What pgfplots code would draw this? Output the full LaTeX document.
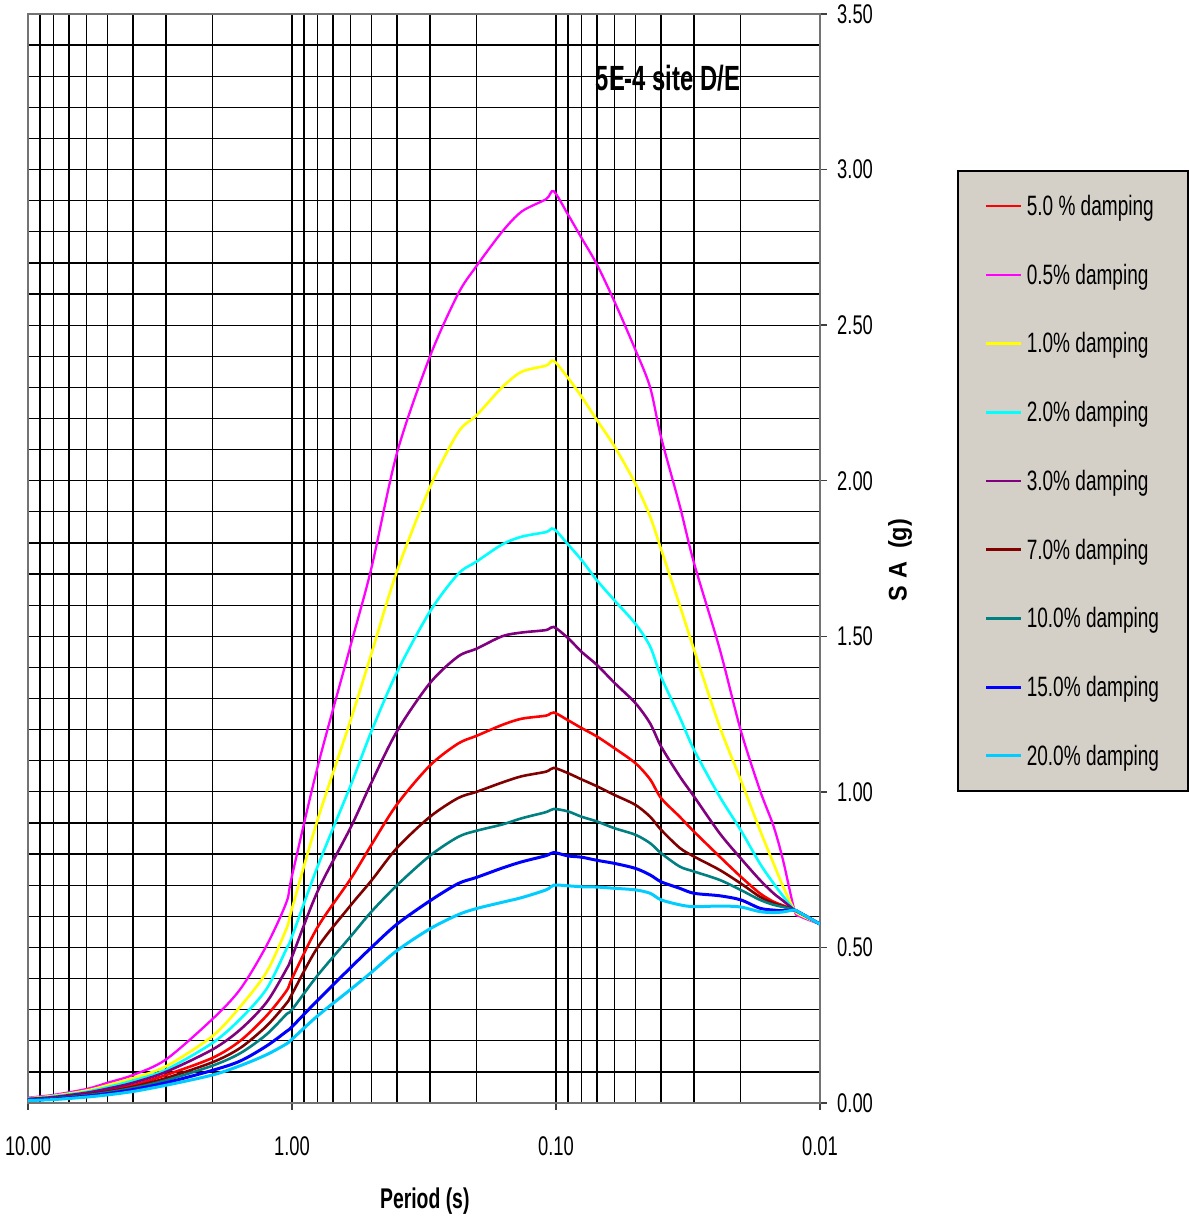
\documentclass[border=0pt]{standalone}
\usepackage{pgfplots}
\usepackage{pgfplotstable}
\pgfplotsset{compat=1.18}
\usepackage{fontspec}
\setmainfont{Liberation Sans}[FakeStretch=0.68]
\newfontfamily\ylabfont{Liberation Sans}[FakeStretch=0.92]
\definecolor{cMag}{HTML}{FF00FF}
\definecolor{cYel}{HTML}{FFFF00}
\definecolor{cCya}{HTML}{00FFFF}
\definecolor{cPur}{HTML}{800080}
\definecolor{cRed}{HTML}{FF0000}
\definecolor{cDrd}{HTML}{800000}
\definecolor{cTea}{HTML}{008080}
\definecolor{cBlu}{HTML}{0000FF}
\definecolor{cLbl}{HTML}{00CCFF}
\definecolor{legbg}{HTML}{D4D0C8}
\pgfplotstableread{
T      d05   d10   d20   d30   d50   d70   d100  d150  d200
10     0.017 0.015 0.014 0.013 0.012 0.011 0.010 0.009 0.008
8      0.026 0.023 0.021 0.019 0.017 0.016 0.015 0.013 0.011
6      0.045 0.040 0.036 0.033 0.029 0.027 0.025 0.022 0.019
5      0.065 0.057 0.051 0.046 0.041 0.037 0.034 0.030 0.026
4      0.090 0.080 0.072 0.065 0.057 0.052 0.048 0.043 0.037
3      0.140 0.118 0.107 0.100 0.090 0.080 0.073 0.065 0.057
2      0.270 0.215 0.193 0.172 0.145 0.131 0.120 0.105 0.090
1.57   0.366 0.310 0.270 0.236 0.200 0.177 0.160 0.135 0.120
1.25   0.505 0.420 0.366 0.323 0.280 0.247 0.220 0.183 0.155
1.05   0.645 0.560 0.495 0.430 0.360 0.320 0.285 0.230 0.190
1      0.730 0.625 0.535 0.470 0.400 0.350 0.300 0.245 0.205
0.8    1.080 0.910 0.760 0.680 0.565 0.500 0.410 0.330 0.280
0.6    1.470 1.230 1.020 0.885 0.720 0.635 0.535 0.435 0.365
0.5    1.720 1.445 1.195 1.030 0.830 0.715 0.615 0.500 0.420
0.4    2.090 1.710 1.385 1.195 0.960 0.820 0.700 0.575 0.490
0.3    2.400 1.980 1.580 1.350 1.085 0.920 0.795 0.650 0.560
0.235  2.600 2.155 1.700 1.435 1.155 0.980 0.855 0.705 0.605
0.2    2.690 2.210 1.740 1.460 1.180 1.000 0.875 0.725 0.625
0.16   2.800 2.300 1.795 1.500 1.215 1.030 0.895 0.755 0.645
0.135  2.865 2.350 1.820 1.512 1.235 1.050 0.915 0.775 0.660
0.109  2.905 2.370 1.835 1.520 1.245 1.065 0.935 0.795 0.685
0.102  2.930 2.385 1.845 1.530 1.255 1.077 0.945 0.805 0.700
0.09   2.855 2.330 1.795 1.494 1.230 1.060 0.937 0.794 0.698
0.08   2.780 2.270 1.745 1.450 1.205 1.040 0.920 0.790 0.695
0.07   2.695 2.195 1.680 1.408 1.178 1.018 0.905 0.780 0.694
0.06   2.575 2.110 1.615 1.350 1.140 0.990 0.883 0.770 0.690
0.05   2.420 1.990 1.540 1.285 1.092 0.958 0.862 0.754 0.685
0.044  2.300 1.885 1.467 1.220 1.040 0.920 0.835 0.733 0.674
0.04   2.140 1.780 1.370 1.146 0.980 0.878 0.803 0.711 0.653
0.034  1.920 1.600 1.240 1.050 0.920 0.820 0.760 0.690 0.637
0.03   1.735 1.457 1.135 0.985 0.872 0.792 0.744 0.674 0.631
0.024  1.460 1.210 0.985 0.867 0.792 0.749 0.717 0.666 0.633
0.02   1.200 1.040 0.878 0.787 0.728 0.706 0.685 0.653 0.630
0.0169 1.006 0.878 0.770 0.717 0.674 0.663 0.653 0.626 0.615
0.015  0.890 0.770 0.706 0.674 0.647 0.642 0.637 0.620 0.612
0.0138 0.780 0.696 0.665 0.650 0.635 0.632 0.630 0.618 0.614
0.0125 0.620 0.620 0.620 0.620 0.620 0.620 0.620 0.620 0.620
0.0119 0.600 0.605 0.611 0.611 0.611 0.611 0.611 0.611 0.611
0.01   0.575 0.575 0.575 0.575 0.575 0.575 0.575 0.575 0.575
}\spectra
\begin{document}
\begin{tikzpicture}
\path (-28pt,-119pt) rectangle (1160pt,1103pt);
\begin{axis}[
  at={(0pt,0pt)}, anchor=south west,
  scale only axis, width=792pt, height=1089pt,
  xmode=log, x dir=reverse, xmin=0.01, xmax=10,
  ymin=0, ymax=3.5,
  xtick={10,1,0.1,0.01}, xticklabels={10.00,1.00,0.10,0.01},
  minor xtick={0.02,0.03,0.04,0.05,0.06,0.07,0.08,0.09,0.2,0.3,0.4,0.5,0.6,0.7,0.8,0.9,2,3,4,5,6,7,8,9},
  ytick={0,0.5,1,1.5,2,2.5,3,3.5},
  yticklabels={0.00,0.50,1.00,1.50,2.00,2.50,3.00,3.50},
  minor ytick={0.1,0.2,0.3,0.4,0.6,0.7,0.8,0.9,1.1,1.2,1.3,1.4,1.6,1.7,1.8,1.9,2.1,2.2,2.3,2.4,2.6,2.7,2.8,2.9,3.1,3.2,3.3,3.4},
  grid=both,
  major grid style={line width=1.25pt, black},
  minor grid style={line width=1.25pt, black},
  tick align=outside,
  major tick length=7pt, minor tick length=0pt,
  xtick pos=bottom, ytick pos=right, yticklabel pos=right,
  tick style={line width=1.5pt, black!75},
  axis line style={line width=2pt, black!55},
  tick label style={font=\fontsize{27}{32}\selectfont},
  xticklabel style={inner sep=0pt, anchor=north, yshift=-26pt},
  yticklabel style={inner sep=0pt, anchor=west, xshift=10pt},
  every axis x label/.style={at={(axis description cs:0.501,-0.0897)}, anchor=center},
  every axis y label/.style={at={(axis description cs:1.101,0.4986)}, rotate=90, anchor=center},
  xlabel={\bfseries\fontsize{28.5}{34}\selectfont Period (s)},
  ylabel={\ylabfont\bfseries\fontsize{25.5}{30}\selectfont S~A~~(g)},
  legend style={at={(axis description cs:1.173,0.8567)}, anchor=north west,
    fill=legbg, draw=black, line width=1.5pt,
    font=\fontsize{28}{33}\selectfont,
    inner xsep=27pt, inner ysep=22.5pt, row sep=42.9pt,
    /tikz/every odd column/.append style={column sep=2pt}},
  legend cell align=left,
  legend image code/.code={\draw[#1] (0pt,0pt) -- (35pt,0pt);},
]
\addplot[cRed, line width=2.6pt, smooth, tension=0.5] table[x=T, y=d50] {\spectra};
\addlegendentry{5.0 \% damping}
\addplot[cMag, line width=2.3pt, smooth, tension=0.5] table[x=T, y=d05] {\spectra};
\addlegendentry{0.5\% damping}
\addplot[cYel, line width=2.6pt, smooth, tension=0.5] table[x=T, y=d10] {\spectra};
\addlegendentry{1.0\% damping}
\addplot[cCya, line width=2.6pt, smooth, tension=0.5] table[x=T, y=d20] {\spectra};
\addlegendentry{2.0\% damping}
\addplot[cPur, line width=2.6pt, smooth, tension=0.5] table[x=T, y=d30] {\spectra};
\addlegendentry{3.0\% damping}
\addplot[cDrd, line width=2.6pt, smooth, tension=0.5] table[x=T, y=d70] {\spectra};
\addlegendentry{7.0\% damping}
\addplot[cTea, line width=2.6pt, smooth, tension=0.5] table[x=T, y=d100] {\spectra};
\addlegendentry{10.0\% damping}
\addplot[cBlu, line width=3pt, smooth, tension=0.5] table[x=T, y=d150] {\spectra};
\addlegendentry{15.0\% damping}
\addplot[cLbl, line width=3pt, smooth, tension=0.5] table[x=T, y=d200] {\spectra};
\addlegendentry{20.0\% damping}
\node[font=\bfseries\fontsize{35}{40}\selectfont, anchor=center] at (rel axis cs:0.808,0.941) {5E-4 site D/E};
\end{axis}
\end{tikzpicture}
\end{document}
